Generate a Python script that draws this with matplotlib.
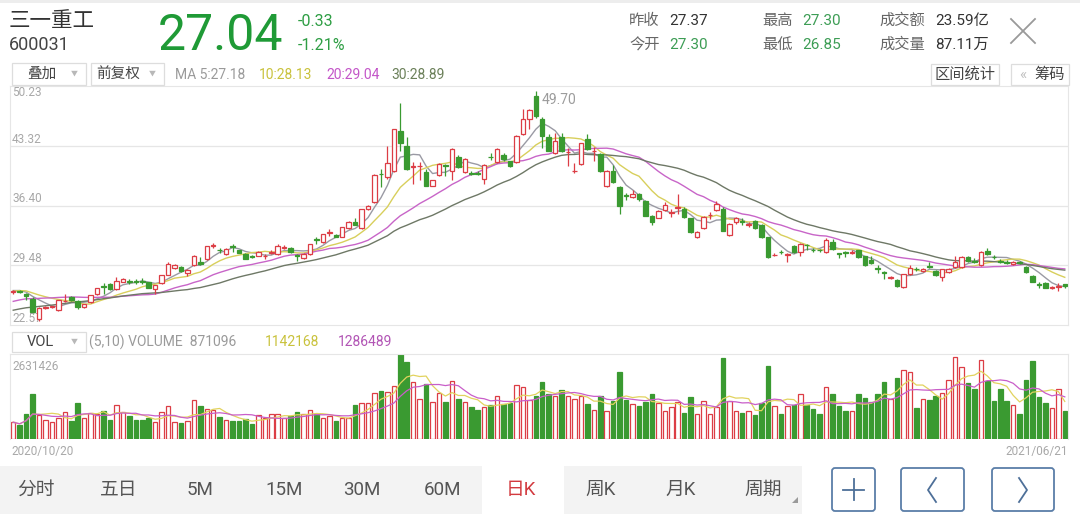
import numpy as np
import pandas as pd
import matplotlib
matplotlib.use('Agg')
import matplotlib.pyplot as plt
from matplotlib.patches import Rectangle, FancyBboxPatch, Polygon
from matplotlib.transforms import blended_transform_factory

plt.rcParams['font.family'] = ['Roboto', 'Noto Sans CJK SC', 'DejaVu Sans']

# ---- data ----
# closes before 2020/10/20, only used to warm up the moving averages
pre_close = [21.9, 22.0, 21.8, 22.1, 22.4, 22.3, 22.6, 22.5, 22.2, 22.6,
             23.0, 23.4, 23.8, 23.6, 24.0, 24.3, 24.5, 24.8, 25.1, 24.9,
             25.6, 26.2, 26.5, 26.9, 26.7, 26.4, 26.8, 26.6, 26.5]

open_ = [26.35, 26.5, 26.2, 25.6, 23.3, 24.5, 24.65, 24.3, 25.3, 25.8,
         25.4, 24.6, 25.2, 26.2, 27.05, 27.3, 26.7, 27.6, 27.65, 27.65,
         27.65, 27.5, 26.7, 27.4, 28.4, 29.2, 29.3, 28.6, 29.5, 29.9,
         30.2, 31.75, 31.25, 30.8, 31.65, 31.2, 30.8, 30.5, 30.6, 30.5,
         30.95, 30.8, 31.5, 31.5, 30.65, 30.3, 30.8, 32.45, 32.2, 33.25,
         33.0, 32.8, 33.8, 34.5, 33.8, 36.0, 36.8, 40.05, 39.7, 40.4,
         45.0, 43.3, 40.85, 40.95, 40.3, 38.7, 39.9, 41.05, 40.4, 42.0,
         40.3, 40.15, 40.15, 39.5, 42.05, 41.4, 42.3, 41.5, 41.4, 44.7,
         46.4, 49.1, 46.4, 44.3, 42.5, 44.3, 42.55, 40.35, 41.2, 44.1,
         42.65, 42.4, 38.7, 40.4, 38.5, 37.55, 37.4, 37.7, 36.9, 35.2,
         35.0, 35.9, 35.55, 36.15, 36.0, 34.9, 32.75, 33.8, 35.25, 35.9,
         36.0, 33.0, 34.5, 34.55, 34.15, 34.6, 34.2, 32.7, 30.65, 31.05,
         30.7, 31.7, 31.0, 31.85, 31.25, 31.25, 31.0, 32.2, 30.85, 30.95,
         30.95, 31.2, 30.5, 30.1, 29.15, 28.65, 28.0, 27.8, 27.0, 28.5,
         29.05, 28.8, 29.35, 28.8, 28.1, 28.7, 29.3, 29.3, 30.4, 29.95,
         29.5, 31.1, 30.45, 29.95, 29.85, 29.6, 29.85, 29.3, 28.2, 27.25,
         27.4, 26.85, 26.95, 27.30]

high = [26.6, 26.6, 26.3, 25.8, 24.6, 24.8, 24.8, 25.5, 26.2, 25.9,
        25.5, 25.0, 26.0, 26.9, 27.4, 27.4, 28.1, 28.0, 27.9, 27.9,
        28.0, 27.6, 27.2, 28.4, 29.9, 29.6, 29.4, 29.0, 30.7, 30.4,
        31.7, 32.1, 31.5, 31.5, 32.0, 31.3, 30.9, 30.7, 31.1, 30.8,
        31.2, 31.9, 31.8, 31.6, 30.8, 30.9, 32.0, 32.7, 33.1, 33.7,
        33.1, 33.9, 34.6, 35.0, 36.0, 36.5, 40.0, 40.6, 43.3, 45.3,
        48.3, 44.3, 41.4, 41.4, 40.6, 39.4, 41.3, 41.2, 43.1, 42.3,
        41.9, 40.4, 40.4, 41.2, 42.5, 43.1, 42.5, 41.6, 44.6, 47.6,
        47.6, 49.7, 46.6, 44.7, 44.8, 44.8, 43.1, 41.3, 43.6, 44.7,
        43.2, 42.5, 40.5, 41.1, 38.6, 37.8, 38.2, 37.9, 37.0, 35.3,
        35.9, 36.8, 36.0, 37.7, 36.2, 35.0, 33.4, 35.2, 35.6, 36.9,
        36.2, 34.4, 35.1, 34.9, 34.5, 34.7, 34.3, 32.8, 30.9, 31.3,
        30.9, 31.8, 32.1, 32.0, 31.5, 31.4, 32.6, 32.5, 30.9, 31.1,
        31.2, 31.3, 30.6, 30.5, 29.5, 28.8, 28.2, 27.9, 28.5, 29.5,
        29.3, 29.2, 29.9, 28.9, 29.1, 29.2, 30.6, 30.5, 30.5, 30.3,
        31.1, 31.5, 30.7, 30.2, 30.1, 30.0, 30.0, 29.4, 28.3, 27.5,
        27.5, 27.1, 27.4, 27.30]

low = [26.2, 26.3, 25.5, 23.9, 23.0, 24.4, 24.55, 24.2, 25.2, 25.4,
       24.4, 24.5, 25.1, 26.0, 26.2, 26.6, 26.6, 27.5, 27.3, 27.3,
       27.3, 26.8, 26.2, 27.3, 28.3, 29.1, 28.7, 28.2, 29.4, 29.5,
       30.1, 31.5, 30.9, 30.7, 31.0, 30.9, 30.2, 30.3, 30.5, 30.2,
       30.8, 30.7, 31.4, 30.9, 30.0, 30.2, 30.7, 32.0, 32.1, 32.9,
       32.7, 32.7, 33.7, 34.1, 33.7, 35.9, 36.7, 38.5, 39.5, 40.3,
       42.7, 40.5, 38.9, 39.3, 38.6, 38.6, 39.8, 39.8, 39.3, 40.7,
       40.2, 39.9, 39.9, 38.9, 41.7, 41.3, 41.6, 40.8, 41.3, 44.6,
       45.2, 46.5, 43.1, 42.7, 42.4, 42.6, 41.0, 40.2, 41.1, 42.8,
       41.6, 40.3, 38.5, 39.0, 35.4, 37.0, 37.3, 36.9, 35.2, 34.1,
       34.9, 35.8, 35.1, 35.4, 35.0, 33.2, 32.6, 33.7, 34.8, 35.8,
       33.4, 32.9, 34.3, 34.2, 33.9, 33.7, 32.6, 30.3, 30.5, 30.8,
       29.9, 30.9, 30.5, 31.3, 31.0, 31.0, 30.9, 31.3, 30.3, 30.4,
       30.8, 30.3, 29.4, 29.6, 28.6, 27.9, 27.9, 27.0, 26.8, 28.3,
       28.8, 28.7, 29.2, 28.2, 27.7, 28.6, 29.2, 29.2, 29.9, 29.7,
       29.4, 30.7, 30.2, 29.7, 29.6, 29.5, 29.6, 28.6, 27.5, 26.8,
       26.8, 26.7, 26.5, 26.85]

close = [26.5, 26.4, 25.9, 24.1, 24.5, 24.65, 24.7, 25.45, 25.4, 25.5,
         24.7, 25.0, 26.0, 26.8, 27.0, 26.7, 27.7, 27.9, 27.6, 27.6,
         27.6, 26.9, 27.2, 28.3, 29.6, 29.5, 28.8, 28.9, 30.6, 29.6,
         31.7, 31.8, 31.2, 31.4, 31.6, 30.95, 30.25, 30.45, 31.0, 30.6,
         31.0, 31.7, 31.6, 31.0, 30.6, 30.8, 32.0, 32.4, 33.1, 33.3,
         32.8, 33.9, 34.5, 34.2, 36.0, 36.4, 39.9, 40.0, 41.3, 45.2,
         43.6, 40.6, 40.9, 41.0, 38.7, 39.3, 41.2, 41.0, 42.9, 40.8,
         41.8, 40.1, 40.1, 41.1, 42.0, 42.9, 41.8, 41.0, 44.5, 46.4,
         47.4, 46.8, 44.5, 42.7, 43.9, 42.7, 42.6, 40.4, 43.6, 42.9,
         42.7, 40.4, 40.4, 39.1, 36.4, 37.5, 37.7, 37.2, 35.2, 34.5,
         35.8, 36.5, 35.6, 36.2, 35.1, 33.3, 33.3, 35.05, 35.3, 36.6,
         33.5, 34.3, 34.9, 34.5, 34.2, 33.8, 32.7, 30.4, 30.7, 31.0,
         30.8, 31.0, 32.0, 31.8, 31.2, 31.2, 32.4, 31.4, 30.8, 30.9,
         31.0, 30.4, 29.5, 29.7, 29.1, 28.6, 28.1, 27.1, 28.5, 29.2,
         29.0, 29.1, 29.3, 28.3, 29.0, 29.1, 29.9, 30.4, 30.0, 29.9,
         31.0, 30.8, 30.4, 29.9, 29.8, 29.9, 29.8, 28.7, 27.6, 27.2,
         26.9, 26.9, 27.05, 27.04]

volume = [520000, 420000, 760000, 1380000, 730000, 590000, 520000, 640000, 830000, 550000,
          1120000, 660000, 800000, 780000, 860000, 590000, 1040000, 830000, 700000, 590000,
          590000, 660000, 520000, 830000, 1010000, 520000, 490000, 550000, 1200000, 1010000,
          940000, 900000, 680000, 590000, 550000, 550000, 620000, 450000, 730000, 660000,
          780000, 780000, 660000, 700000, 830000, 760000, 900000, 760000, 660000, 700000,
          550000, 660000, 660000, 1040000, 1110000, 1110000, 1420000, 1480000, 1460000, 1630000,
          2631426, 2390000, 1770000, 1250000, 1700000, 1140000, 1420000, 1140000, 1790000, 1250000,
          1140000, 990000, 900000, 990000, 1040000, 1320000, 1090000, 1110000, 1660000, 1610000,
          1220000, 1320000, 1770000, 1400000, 1320000, 1530000, 1320000, 1250000, 1320000, 1070000,
          900000, 1320000, 880000, 1180000, 2080000, 1200000, 1070000, 1010000, 1140000, 1380000,
          1110000, 880000, 990000, 1140000, 800000, 1300000, 760000, 1180000, 760000, 990000,
          2520000, 1180000, 880000, 800000, 860000, 730000, 1110000, 2260000, 1010000, 780000,
          1010000, 1040000, 1380000, 1040000, 940000, 760000, 1610000, 1380000, 1010000, 860000,
          860000, 1380000, 1280000, 1140000, 1380000, 1770000, 1250000, 1900000, 2150000, 2080000,
          970000, 1250000, 1200000, 1320000, 1420000, 1840000, 2530000, 2220000, 1740000, 1560000,
          2440000, 1800000, 1180000, 1560000, 1180000, 1040000, 780000, 1820000, 2420000, 1300000,
          1110000, 970000, 1560000, 871096]

price_ticks = [50.23, 43.32, 36.40, 29.48, 22.57]
vol_top = 2631426
ma_windows = [5, 10, 20, 30]
ma_colors = ['#9a9aa4', '#d8cf5c', '#c865c8', '#6e7866']

RED = '#dc3d45'
GREEN = '#3a9a31'

o = np.array(open_)
c = np.array(close)
h = np.array(high)
l = np.array(low)
v = np.array(volume, dtype=float)
n = len(c)
x = np.arange(n)
up = c >= o
col = np.where(up, RED, GREEN)

all_close = pd.Series(pre_close + close)

fig = plt.figure(figsize=(10.8, 5.17), dpi=100)
fig.patch.set_facecolor('white')


def frame(left, top, right, bottom):
    return [left / 1080, 1 - bottom / 517, (right - left) / 1080, (bottom - top) / 517]


# ---- price panel ----
ax = fig.add_axes(frame(10, 86, 1068, 325))
ax.set_xlim(-0.5, n - 0.5)
ax.set_ylim(price_ticks[-1], price_ticks[0])
for s in ax.spines.values():
    s.set_color('#e6e6e6')
ax.set_xticks([])
ax.set_yticks(price_ticks[1:-1])
ax.yaxis.grid(True, color='#e6e6e6', lw=0.9)
ax.tick_params(length=0, labelleft=False)

for w, mc in zip(ma_windows, ma_colors):
    ma = all_close.rolling(w, min_periods=1).mean().iloc[len(pre_close):].values
    ax.plot(x, ma, color=mc, lw=1.0, zorder=2)

ax.vlines(x, l, h, colors=col, lw=0.9, zorder=3)
ax.bar(x, np.maximum(np.abs(c - o), 0.07), bottom=np.minimum(o, c), width=0.7,
       color=np.where(up, 'white', GREEN), edgecolor=col, linewidth=0.9, zorder=4)

tr = blended_transform_factory(ax.transAxes, ax.transData)
for i, t in enumerate(price_ticks):
    ax.text(0.002, t, f'{t:.2f}', transform=tr, fontsize=8.5, color='#a8a8a8',
            va='top' if i == 0 else 'bottom', ha='left')

imax = int(np.argmax(h))
ax.text(imax + 0.9, h[imax] - 0.25, f'{h[imax]:.2f}', fontsize=10, color='#9c9c9c',
        va='top', ha='left')

# ---- volume panel ----
axv = fig.add_axes(frame(10, 354, 1068, 439))
axv.set_xlim(-0.5, n - 0.5)
axv.set_ylim(0, vol_top)
for s in axv.spines.values():
    s.set_color('#e6e6e6')
axv.spines['bottom'].set_visible(False)
axv.set_xticks([])
axv.set_yticks([])
axv.bar(x, v, width=0.7, color=np.where(up, 'white', GREEN), edgecolor=col, linewidth=0.9, zorder=2)
vs = pd.Series(v)
axv.plot(x, vs.rolling(5, min_periods=1).mean(), color='#e2d35e', lw=0.9, zorder=3)
axv.plot(x, vs.rolling(10, min_periods=1).mean(), color='#c95ec9', lw=0.9, zorder=3)
axv.text(0.002, 0.93, str(vol_top), transform=axv.transAxes, fontsize=8.5, color='#a8a8a8',
         va='top', ha='left')

# ---- overlay: header, legends and buttons in pixel coords ----
ov = fig.add_axes([0, 0, 1, 1], zorder=10)
ov.set_xlim(0, 1080)
ov.set_ylim(517, 0)
ov.axis('off')
ov.patch.set_alpha(0)

ov.add_patch(Rectangle((0, 0), 1080, 3, fc='#ededed', ec='none'))
ov.text(9, 21, '三一重工', fontsize=15.5, color='#333333', va='center')
ov.text(9, 45, '600031', fontsize=13, color='#444444', va='center')
ov.text(158, 36, '27.04', fontsize=36, color='#1f9a36', va='center')
ov.text(298, 22, '-0.33', fontsize=11.5, color='#2e9e44', va='center')
ov.text(298, 46, '-1.21%', fontsize=11.5, color='#2e9e44', va='center')

quote = [(629, 21, '昨收', '27.37', '#333333'), (629, 45, '今开', '27.30', '#3d9d55'),
         (762, 21, '最高', '27.30', '#3d9d55'), (762, 45, '最低', '26.85', '#3d9d55'),
         (879, 21, '成交额', '23.59亿', '#333333'), (879, 45, '成交量', '87.11万', '#333333')]
for qx, qy, lab, val, vc in quote:
    ov.text(qx, qy, lab, fontsize=11, color='#666666', va='center')
    ov.text(qx + (40 if len(lab) == 2 else 56), qy, val, fontsize=11, color=vc, va='center')

ov.plot([1011, 1035], [19, 43], color='#9a9a9a', lw=1.3)
ov.plot([1035, 1011], [19, 43], color='#9a9a9a', lw=1.3)

# option boxes
for bx, bw, lab, tx in [(12, 74, '叠加', 27), (91, 73, '前复权', 96)]:
    ov.add_patch(Rectangle((bx, 63), bw, 22, fc='white', ec='#dddddd', lw=0.9))
    ov.text(tx, 74, lab, fontsize=10.5, color='#444444', va='center')
    ov.text(bx + bw - 12, 74, '▼', fontsize=5, color='#b8b8b8', va='center', ha='center')

ma_legend = [(175, 'MA 5:27.18', '#9a9a9a'), (259, '10:28.13', '#c9c23c'),
             (326, '20:29.04', '#c355c8'), (391, '30:28.89', '#6b8059')]
for lx, s, lc in ma_legend:
    ov.text(lx, 75, s, fontsize=10, color=lc, va='center')

ov.add_patch(Rectangle((931, 64), 68, 21, fc='white', ec='#dddddd', lw=0.9))
ov.text(965, 74.5, '区间统计', fontsize=11, color='#444444', va='center', ha='center')
ov.add_patch(Rectangle((1011, 64), 58, 21, fc='white', ec='#dddddd', lw=0.9))
ov.text(1019, 74.5, '«', fontsize=11, color='#c0c0c0', va='center')
ov.text(1034, 74.5, '筹码', fontsize=11, color='#444444', va='center')

# volume legend
ov.add_patch(Rectangle((12, 332), 74, 20, fc='white', ec='#dddddd', lw=0.9))
ov.text(27, 342, 'VOL', fontsize=10.5, color='#444444', va='center')
ov.text(74, 342, '▼', fontsize=5, color='#b8b8b8', va='center', ha='center')
ov.text(89, 342, '(5,10) VOLUME  871096', fontsize=10, color='#9a9a9a', va='center')
ov.text(265, 342, '1142168', fontsize=10, color='#c9c23c', va='center')
ov.text(338, 342, '1286489', fontsize=10, color='#b255b5', va='center')

ov.text(11, 451, '2020/10/20', fontsize=8.5, color='#a8a8a8', va='center')
ov.text(1068, 451, '2021/06/21', fontsize=8.5, color='#a8a8a8', va='center', ha='right')

# bottom period bar
ov.add_patch(Rectangle((0, 466), 482, 48, fc='#f3f3f3', ec='none'))
ov.add_patch(Rectangle((564, 466), 238, 48, fc='#f3f3f3', ec='none'))
periods = [(17, '分时'), (100, '五日'), (187, '5M'), (265, '15M'), (343, '30M'),
           (424, '60M'), (506, '日K'), (585, '周K'), (665, '月K'), (744, '周期')]
for px, s in periods:
    ov.text(px, 490, s, fontsize=13.5, color='#d23a3f' if s == '日K' else '#555555', va='center')
ov.add_patch(Polygon([(792, 503), (798, 503), (798, 497)], closed=True, fc='#9a9a9a', ec='none'))

for bx, bw in [(832, 43), (901, 63), (992, 62)]:
    ov.add_patch(FancyBboxPatch((bx, 468), bw, 43, boxstyle='round,pad=0,rounding_size=3',
                                fc='white', ec='#5b7ea8', lw=1.3))
ov.plot([843, 864], [489.5, 489.5], color='#4d6f98', lw=1.3)
ov.plot([853.5, 853.5], [479, 500], color='#4d6f98', lw=1.3)
ov.plot([936, 928, 936], [478, 490, 502], color='#4d6f98', lw=1.3)
ov.plot([1019, 1027, 1019], [478, 490, 502], color='#4d6f98', lw=1.3)

fig.savefig('out.png', dpi=100, facecolor='white')
